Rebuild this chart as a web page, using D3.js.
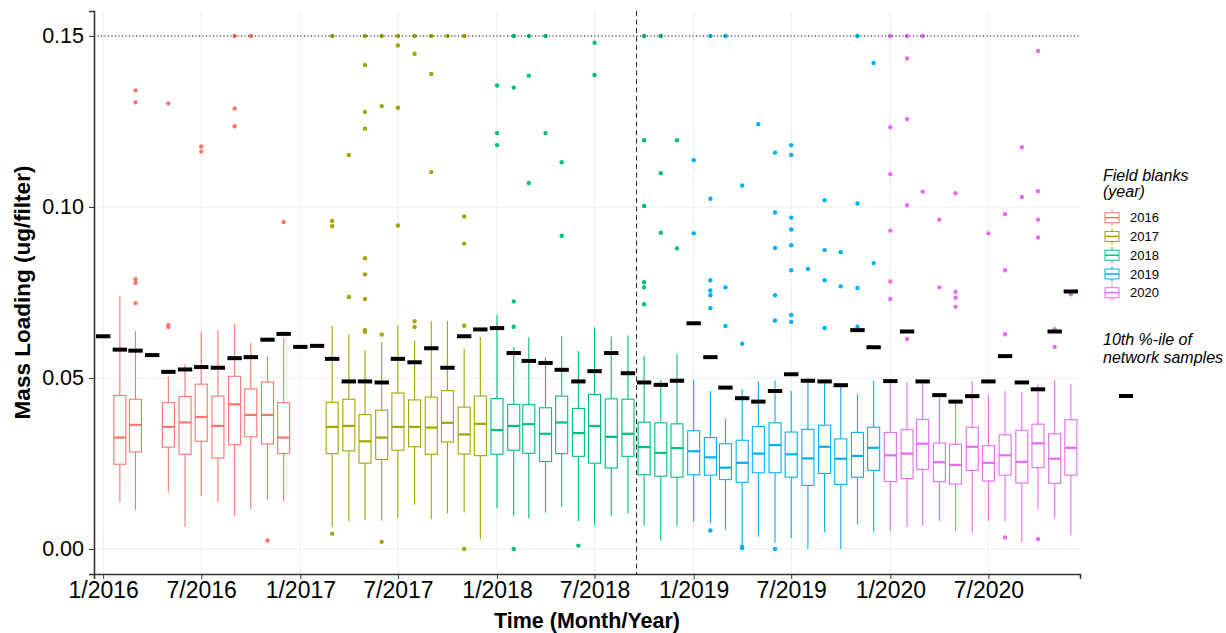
<!DOCTYPE html>
<meta charset="utf-8">
<title>Field blanks vs network samples</title>
<style>
body { margin: 0; background: #fff; }
svg { font-family: "Liberation Sans", Arial, sans-serif; }
.grid line { stroke: #ebebeb; stroke-width: 1; }
.axis path, .axis line { stroke: #333; }
.axis text { fill: #000; }
</style>
<svg width="1226" height="633"></svg>
<script src="https://d3js.org/d3.v7.min.js"></script>
<script>

// box stats per month: low whisker, q1, median, q3, high whisker
var boxMonths = ["2016-02","2016-03","2016-05","2016-06","2016-07","2016-08","2016-09","2016-10","2016-11","2016-12",
  "2017-03","2017-04","2017-05","2017-06","2017-07","2017-08","2017-09","2017-10","2017-11","2017-12",
  "2018-01","2018-02","2018-03","2018-04","2018-05","2018-06","2018-07","2018-08","2018-09","2018-10","2018-11","2018-12",
  "2019-01","2019-02","2019-03","2019-04","2019-05","2019-06","2019-07","2019-08","2019-09","2019-10","2019-11","2019-12",
  "2020-01","2020-02","2020-03","2020-04","2020-05","2020-06","2020-07","2020-08","2020-09","2020-10","2020-11","2020-12"];
var whiskLow = [.0137,.0114,.0168,.0065,.0155,.0139,.0097,.0118,.0144,.0140,
  .0065,.0081,.0084,.0083,.0091,.0130,.0087,.0104,.0107,.0028,
  .0119,.0096,.0089,.0106,.0123,.0081,.0070,.0097,.0104,.0069,.0024,.0067,
  .0080,.0075,.0057,.0009,.0036,.0018,.0032,.0000,.0049,.0000,.0072,.0049,
  .0055,.0065,.0068,.0081,.0052,.0048,.0083,.0081,.0020,.0116,.0089,.0040];
var q1 = [.0248,.0284,.0298,.0277,.0315,.0266,.0305,.0328,.0307,.0279,
  .0279,.0287,.0251,.0262,.0289,.0299,.0277,.0313,.0278,.0273,
  .0277,.0289,.0280,.0256,.0279,.0271,.0251,.0237,.0271,.0217,.0213,.0210,
  .0217,.0216,.0203,.0195,.0223,.0223,.0210,.0186,.0221,.0189,.0210,.0230,
  .0197,.0206,.0233,.0197,.0190,.0230,.0199,.0216,.0193,.0238,.0192,.0216];
var median = [.0326,.0363,.0357,.0370,.0386,.0360,.0423,.0392,.0392,.0326,
  .0357,.0360,.0315,.0326,.0357,.0357,.0355,.0369,.0335,.0366,
  .0348,.0360,.0365,.0337,.0370,.0339,.0360,.0328,.0337,.0298,.0281,.0295,
  .0286,.0268,.0238,.0252,.0279,.0304,.0277,.0265,.0299,.0264,.0272,.0296,
  .0274,.0279,.0308,.0254,.0246,.0299,.0252,.0274,.0255,.0309,.0264,.0296];
var q3 = [.0449,.0438,.0428,.0446,.0482,.0447,.0505,.0468,.0488,.0428,
  .0429,.0438,.0393,.0406,.0456,.0436,.0444,.0463,.0415,.0447,
  .0440,.0423,.0422,.0413,.0447,.0411,.0452,.0439,.0438,.0371,.0369,.0366,
  .0346,.0326,.0308,.0318,.0358,.0369,.0342,.0350,.0362,.0322,.0341,.0356,
  .0341,.0349,.0379,.0310,.0306,.0356,.0302,.0334,.0347,.0365,.0337,.0378];
var whiskHigh = [.0740,.0637,.0505,.0540,.0634,.0639,.0657,.0602,.0564,.0618,
  .0653,.0628,.0582,.0606,.0654,.0609,.0667,.0667,.0586,.0620,
  .0684,.0590,.0619,.0561,.0621,.0579,.0648,.0621,.0625,.0565,.0494,.0571,
  .0494,.0462,.0380,.0467,.0490,.0493,.0462,.0486,.0486,.0479,.0452,.0492,
  .0492,.0488,.0485,.0445,.0426,.0491,.0450,.0462,.0459,.0482,.0494,.0482];

// outlying field blanks (values above 0.15 shown at 0.15)
var outlierMonths = ["2016-03","2016-03","2016-03","2016-03","2016-03","2016-05","2016-05","2016-05","2016-07","2016-07",
  "2016-09","2016-09","2016-09","2016-10","2016-11","2016-12",
  "2017-03","2017-03","2017-03","2017-03","2017-04","2017-04",
  "2017-05","2017-05","2017-05","2017-05","2017-05","2017-05","2017-05","2017-05","2017-05",
  "2017-06","2017-06","2017-06","2017-06","2017-07","2017-07","2017-07","2017-07",
  "2017-08","2017-08","2017-08","2017-08","2017-09","2017-09","2017-09","2017-10",
  "2017-11","2017-11","2017-11","2017-11","2017-11",
  "2018-01","2018-01","2018-01","2018-02","2018-02","2018-02","2018-02","2018-02",
  "2018-03","2018-03","2018-03","2018-04","2018-04","2018-05","2018-05","2018-06","2018-07","2018-07",
  "2018-10","2018-10","2018-10","2018-10","2018-10","2018-10","2018-11","2018-11","2018-11","2018-12","2018-12",
  "2019-01","2019-01","2019-02","2019-02","2019-02","2019-02","2019-02","2019-02","2019-02",
  "2019-03","2019-03","2019-03","2019-04","2019-04","2019-04","2019-04","2019-05",
  "2019-06","2019-06","2019-06","2019-06","2019-06","2019-06",
  "2019-07","2019-07","2019-07","2019-07","2019-07","2019-07","2019-07","2019-07",
  "2019-08","2019-09","2019-09","2019-09","2019-09","2019-10","2019-10",
  "2019-11","2019-11","2019-11","2019-11","2019-12","2019-12",
  "2020-01","2020-01","2020-01","2020-01","2020-01","2020-01",
  "2020-02","2020-02","2020-02","2020-02","2020-02","2020-03","2020-03","2020-04","2020-04",
  "2020-05","2020-05","2020-05","2020-05","2020-07","2020-08","2020-08","2020-08","2020-08",
  "2020-09","2020-09","2020-10","2020-10","2020-10","2020-10","2020-10","2020-11","2020-11","2020-12"];
var outlierValues = [.1341,.1306,.0789,.0778,.0719,.1303,.0655,.0649,.1177,.1162,
  .15,.1288,.1236,.15,.0025,.0956,
  .15,.0959,.0944,.0045,.1152,.0737,
  .15,.1415,.1278,.1229,.0850,.0803,.0731,.0640,.0635,
  .15,.1295,.0627,.0021,.15,.1472,.1290,.0946,
  .15,.1448,.0666,.0649,.15,.1389,.1102,.15,
  .15,.0972,.0893,.0653,.0000,
  .1355,.1216,.1181,.15,.1349,.0724,.0650,.0000,
  .15,.1384,.1070,.15,.1216,.1131,.0916,.0010,.1480,.1386,
  .15,.1195,.1003,.0780,.0765,.0716,.15,.1099,.0925,.1195,.0879,
  .1137,.0923,.15,.1024,.0786,.0756,.0742,.0704,.0054,
  .15,.0765,.0652,.1063,.0600,.0006,.0003,.1242,
  .1159,.0984,.0880,.0742,.0668,.0000,
  .1181,.1152,.0969,.0934,.0888,.0815,.0684,.0664,
  .0819,.1020,.0874,.0786,.0646,.0868,.0768,
  .15,.1010,.0763,.0650,.1421,.0836,
  .15,.1233,.1096,.0931,.0782,.0731,
  .15,.1434,.1257,.1005,.0614,.15,.1045,.0963,.0765,
  .1040,.0752,.0735,.0708,.0923,.0979,.0815,.0628,.0034,
  .1175,.1029,.1456,.1046,.0963,.0911,.0029,.0643,.0591,.0745];

// 10th percentile of network samples, Jan 2016 - Dec 2020
var networkMonths = d3.timeMonths(new Date(2016, 0, 1), new Date(2021, 0, 1));
var network10th = [.0622,.0583,.0580,.0567,.0518,.0525,.0532,.0530,.0558,.0561,.0612,.0629,
  .0591,.0594,.0556,.0490,.0490,.0487,.0556,.0546,.0587,.0530,.0622,.0642,
  .0646,.0573,.0550,.0544,.0524,.0490,.0520,.0573,.0514,.0487,.0480,.0492,
  .0660,.0561,.0472,.0441,.0431,.0462,.0511,.0492,.0490,.0479,.0640,.0590,
  .0491,.0636,.0490,.0450,.0431,.0447,.0490,.0564,.0487,.0467,.0636,.0753];

var years = ["2016","2017","2018","2019","2020"];
var yearColors = ["#F8766D","#A3A500","#00BF7D","#00B0F6","#E76BF3"];
var yTicks = [0, 0.05, 0.10, 0.15];
var xTicks = ["2016-01","2016-07","2017-01","2017-07","2018-01","2018-07","2019-01","2019-07","2020-01","2020-07"];
var capValue = 0.15;
var splitDate = "2018-09-17";

var svg = d3.select("svg"),
    margin = {top: 11, right: 146, bottom: 59, left: 94},
    width = +svg.attr("width") - margin.left - margin.right,
    height = +svg.attr("height") - margin.top - margin.bottom;

var parseMonth = d3.timeParse("%Y-%m"),
    parseDay = d3.timeParse("%Y-%m-%d");

var x = d3.scaleTime()
    .domain([new Date(2015, 11, 15), new Date(2020, 11, 18)])
    .range([0, width]);
var y = d3.scaleLinear().domain([-0.0073, 0.1573]).range([height, 0]);
var color = d3.scaleOrdinal().domain(years).range(yearColors);

var monthW = x(new Date(2016, 1, 1)) - x(new Date(2016, 0, 1));
var boxW = monthW * 0.72,
    barW = monthW * 0.86;

var g = svg.append("g")
    .attr("transform", "translate(" + margin.left + "," + margin.top + ")");

// grid
var grid = g.append("g").attr("class", "grid");
grid.selectAll(".gy").data(yTicks).enter().append("line")
    .attr("x1", 0).attr("x2", width)
    .attr("y1", function(d) { return y(d); }).attr("y2", function(d) { return y(d); });
grid.selectAll(".gx").data(xTicks).enter().append("line")
    .attr("y1", 0).attr("y2", height)
    .attr("x1", function(d) { return x(parseMonth(d)); }).attr("x2", function(d) { return x(parseMonth(d)); });

var boxes = boxMonths.map(function(m, i) {
  return {date: parseMonth(m), year: m.slice(0, 4), lo: whiskLow[i], q1: q1[i], med: median[i], q3: q3[i], hi: whiskHigh[i]};
});

var bg = g.selectAll(".box").data(boxes).enter().append("g")
    .attr("class", "box")
    .attr("transform", function(d) { return "translate(" + x(d.date) + ",0)"; })
    .style("stroke", function(d) { return color(d.year); });

bg.append("line").attr("y1", function(d) { return y(d.hi); }).attr("y2", function(d) { return y(d.q3); })
    .attr("stroke-width", 1.1);
bg.append("line").attr("y1", function(d) { return y(d.q1); }).attr("y2", function(d) { return y(d.lo); })
    .attr("stroke-width", 1.1);
bg.append("rect")
    .attr("x", -boxW / 2).attr("width", boxW)
    .attr("y", function(d) { return y(d.q3); })
    .attr("height", function(d) { return y(d.q1) - y(d.q3); })
    .attr("fill", "#fff").attr("stroke-width", 1.1);
bg.append("line")
    .attr("x1", -boxW / 2).attr("x2", boxW / 2)
    .attr("y1", function(d) { return y(d.med); }).attr("y2", function(d) { return y(d.med); })
    .attr("stroke-width", 2.2);

// outliers
g.selectAll(".outlier").data(outlierMonths).enter().append("circle")
    .attr("class", "outlier")
    .attr("cx", function(d) { return x(parseMonth(d)); })
    .attr("cy", function(d, i) { return y(Math.min(outlierValues[i], capValue)); })
    .attr("r", 2.2)
    .attr("fill", function(d) { return color(d.slice(0, 4)); });

// network 10th percentile bars
g.selectAll(".p10").data(networkMonths).enter().append("line")
    .attr("class", "p10")
    .attr("x1", function(d) { return x(d) - barW / 2; })
    .attr("x2", function(d) { return x(d) + barW / 2; })
    .attr("y1", function(d, i) { return y(network10th[i]); })
    .attr("y2", function(d, i) { return y(network10th[i]); })
    .attr("stroke", "#000").attr("stroke-width", 4);

// reference lines
g.append("line")
    .attr("x1", 0).attr("x2", width)
    .attr("y1", y(capValue)).attr("y2", y(capValue))
    .attr("stroke", "#000").attr("stroke-width", 1).attr("stroke-dasharray", "1,2.5");
g.append("line")
    .attr("x1", x(parseDay(splitDate))).attr("x2", x(parseDay(splitDate)))
    .attr("y1", 0).attr("y2", height)
    .attr("stroke", "#222").attr("stroke-width", 1).attr("stroke-dasharray", "5,3.5");

// axes
var fmt = d3.timeFormat("%-m/%Y");
g.append("g")
    .attr("class", "axis")
    .attr("transform", "translate(0," + height + ")")
    .call(d3.axisBottom(x).tickValues(xTicks.map(parseMonth)).tickFormat(fmt).tickSizeOuter(0).tickSize(5).tickPadding(3))
    .call(function(a) { a.select(".domain").attr("stroke-width", 1.6); })
    .selectAll("text").style("font-size", "23px").attr("dy", "0.71em");

g.append("g")
    .attr("class", "axis")
    .call(d3.axisLeft(y).tickValues(yTicks).tickFormat(d3.format(".2f")).tickSizeOuter(0).tickSize(5).tickPadding(5))
    .call(function(a) { a.select(".domain").attr("stroke-width", 1.6); })
    .selectAll("text").style("font-size", "21.5px");

svg.append("text")
    .attr("x", margin.left + width / 2)
    .attr("y", 628)
    .attr("text-anchor", "middle")
    .style("font-size", "21.5px").style("font-weight", "bold")
    .text("Time (Month/Year)");

svg.append("text")
    .attr("transform", "translate(30," + (margin.top + height / 2) + ") rotate(-90)")
    .attr("text-anchor", "middle")
    .style("font-size", "22.5px").style("font-weight", "bold")
    .text("Mass Loading (ug/filter)");

// legend
var lg = svg.append("g").attr("transform", "translate(1103,0)");
lg.append("text").attr("y", 181).style("font-size", "16px").style("font-style", "italic").text("Field blanks");
lg.append("text").attr("y", 197).style("font-size", "16px").style("font-style", "italic").text("(year)");

var key = lg.selectAll(".key").data(years).enter().append("g")
    .attr("transform", function(d, i) { return "translate(0," + (217.7 + i * 18.75) + ")"; });
key.append("line").attr("x1", 9).attr("x2", 9).attr("y1", -8).attr("y2", 8)
    .attr("stroke", function(d) { return color(d); }).attr("stroke-width", 1);
key.append("rect").attr("x", 2).attr("y", -5).attr("width", 14).attr("height", 10)
    .attr("fill", "#fff").attr("stroke", function(d) { return color(d); }).attr("stroke-width", 1);
key.append("line").attr("x1", 2).attr("x2", 16).attr("y1", 0).attr("y2", 0)
    .attr("stroke", function(d) { return color(d); }).attr("stroke-width", 1.5);
key.append("text").attr("x", 27).attr("dy", "0.35em").style("font-size", "13px").text(function(d) { return d; });

lg.append("text").attr("y", 345).style("font-size", "16px").style("font-style", "italic").text("10th %-ile of");
lg.append("text").attr("y", 363).style("font-size", "16px").style("font-style", "italic").text("network samples");
lg.append("line").attr("x1", 16).attr("x2", 30).attr("y1", 396).attr("y2", 396)
    .attr("stroke", "#000").attr("stroke-width", 4);

</script>
